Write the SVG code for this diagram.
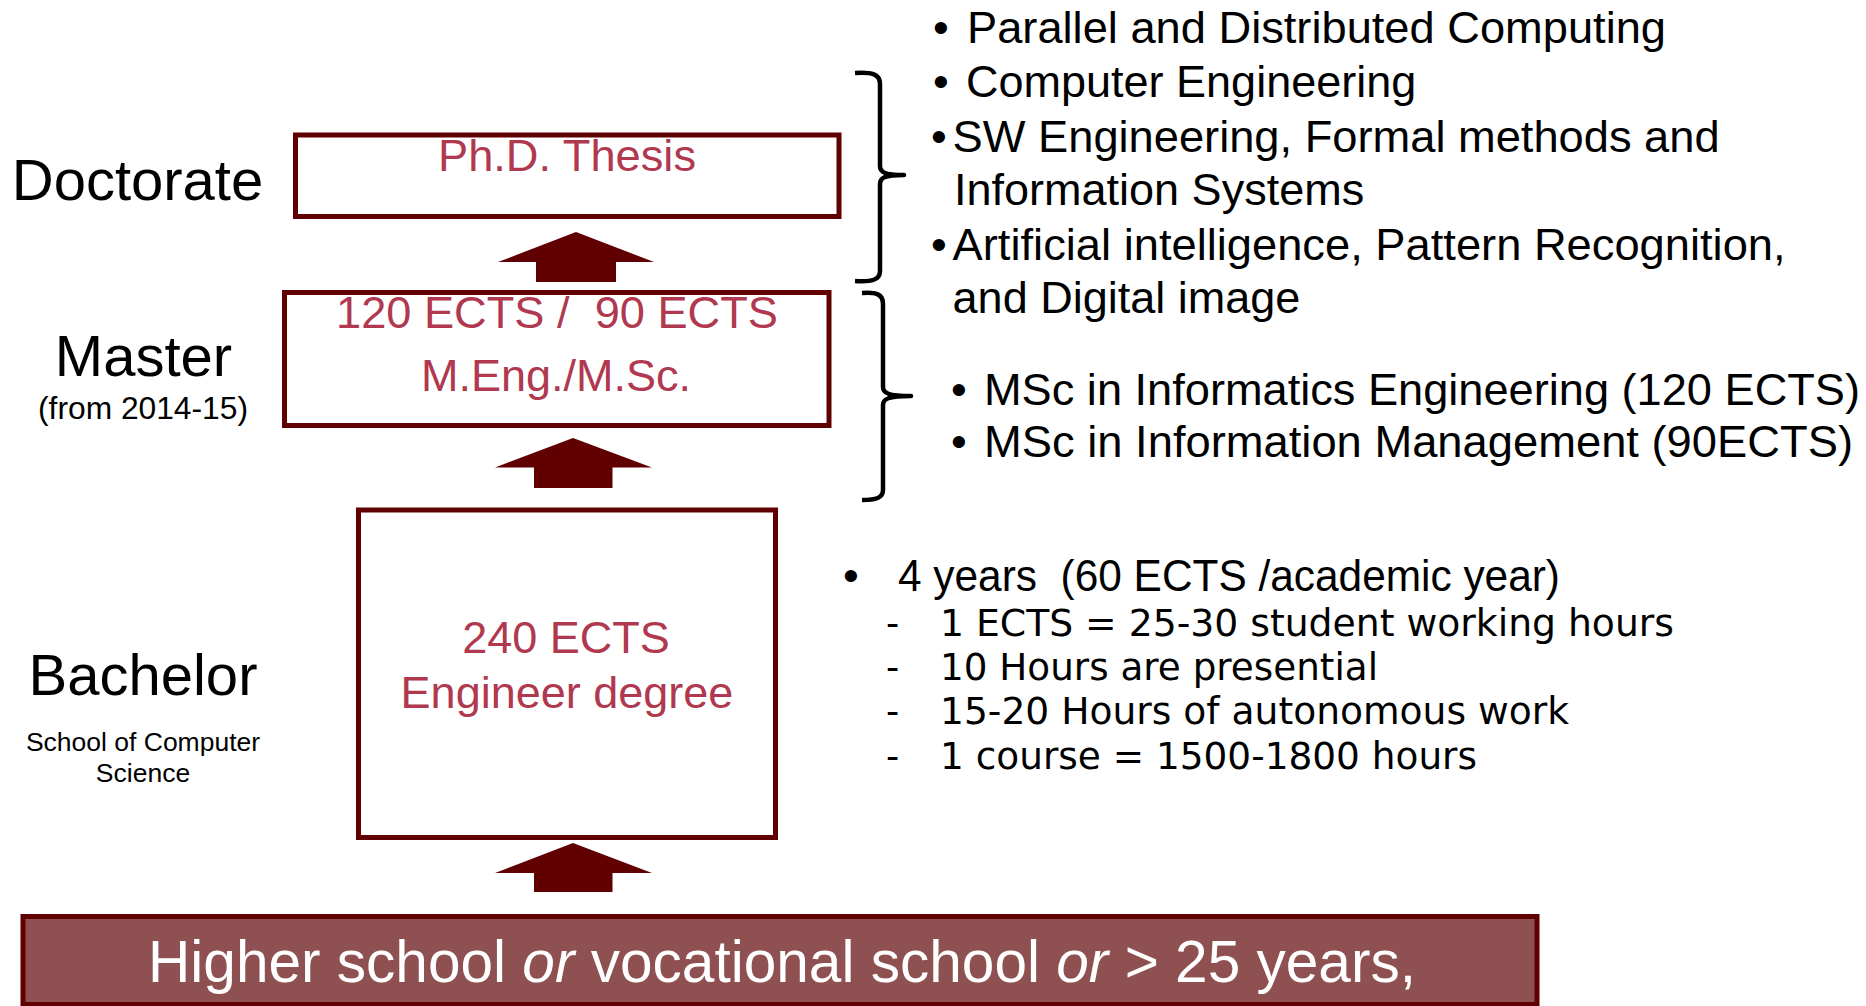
<svg xmlns="http://www.w3.org/2000/svg" width="1866" height="1006" viewBox="0 0 1866 1006">
<style>
.box{fill:#ffffff;stroke:#600000;stroke-width:5}
.arrow{fill:#600000;stroke:none}
.lbl{font-family:"Liberation Sans",Arial,sans-serif;fill:#000;text-anchor:middle}
.big{font-size:58px}
.red{font-family:"Liberation Sans",Arial,sans-serif;font-size:45px;fill:#b0384f;text-anchor:middle}
.list{font-family:"Liberation Sans",Arial,sans-serif;font-size:45px;fill:#000}
.sub{font-family:"DejaVu Sans",Verdana,sans-serif;font-size:36.5px;fill:#000}
.brace{fill:none;stroke:#000;stroke-width:4.5;stroke-linecap:butt;stroke-linejoin:round}
</style>
<rect width="1866" height="1006" fill="#ffffff"/>

<g id="doctorate">
  <rect class="box" x="295.5" y="135" width="543.5" height="81.5"/>
  <text class="red" x="567" y="171" textLength="258" lengthAdjust="spacingAndGlyphs">Ph.D. Thesis</text>
</g>
<g id="master">
  <rect class="box" x="284.5" y="292.5" width="544.5" height="133"/>
  <text class="red" x="557" y="328" xml:space="preserve" textLength="442" lengthAdjust="spacingAndGlyphs">120 ECTS /  90 ECTS</text>
  <text class="red" x="556" y="391">M.Eng./M.Sc.</text>
</g>
<g id="bachelor">
  <rect class="box" x="358.5" y="510" width="417" height="327.5"/>
  <text class="red" x="566" y="653">240 ECTS</text>
  <text class="red" x="567" y="708">Engineer degree</text>
</g>
<g id="entry">
  <rect x="23" y="916.5" width="1514" height="88" fill="#8e5050" stroke="#600000" stroke-width="5"/>
  <text x="148" y="982" font-family="'Liberation Sans',Arial,sans-serif" font-size="58.5" fill="#ffffff" textLength="1268" lengthAdjust="spacingAndGlyphs">Higher school <tspan font-style="italic">or</tspan> vocational school <tspan font-style="italic">or</tspan> &gt; 25 years,</text>
</g>

<g id="level-labels">
  <text class="lbl big" x="137.5" y="200">Doctorate</text>
  <text class="lbl big" x="143.5" y="376">Master</text>
  <text class="lbl" x="143" y="419" font-size="31" textLength="210" lengthAdjust="spacingAndGlyphs">(from 2014-15)</text>
  <text class="lbl big" x="143" y="695">Bachelor</text>
  <text class="lbl" x="143" y="751" font-size="26.5">School of Computer</text>
  <text class="lbl" x="143" y="782" font-size="26.5">Science</text>
</g>

<g id="connectors">
  <polygon class="arrow" points="576,232 654,262 616,262 616,282 536,282 536,262 498,262"/>
  <polygon class="arrow" points="573,438 652,467.5 612.5,467.5 612.5,488 534,488 534,467.5 495,467.5"/>
  <polygon class="arrow" points="573,843 652,873 612.5,873 612.5,892 534,892 534,873 495,873"/>
</g>

<g id="braces">
  <path class="brace" d="M855,73 C872,72 880,74 880,84 L880,166 C880,172 884,175 904,175 C884,175 880,178 880,184 L880,271 C880,280 872,282 855,281"/>
  <path class="brace" d="M862,293 C876,292 883,294 883,304 L883,387 C883,393 888,396 911,396 C888,396 883,399 883,405 L883,490 C883,498 876,500 862,500"/>
</g>

<g id="doctorate-areas">
  <text class="list" x="933" y="43">•</text>
  <text class="list" x="967" y="43" textLength="699" lengthAdjust="spacingAndGlyphs">Parallel and Distributed Computing</text>
  <text class="list" x="933" y="97">•</text>
  <text class="list" x="966" y="97">Computer Engineering</text>
  <text class="list" x="931" y="151.5">•</text>
  <text class="list" x="952.6" y="151.5" textLength="767" lengthAdjust="spacingAndGlyphs">SW Engineering, Formal methods and</text>
  <text class="list" x="954" y="205">Information Systems</text>
  <text class="list" x="931" y="259.5">•</text>
  <text class="list" x="952.6" y="259.5" textLength="833" lengthAdjust="spacingAndGlyphs">Artificial intelligence, Pattern Recognition,</text>
  <text class="list" x="952.6" y="313">and Digital image</text>
</g>

<g id="master-programmes">
  <text class="list" x="951" y="405">•</text>
  <text class="list" x="984" y="405" textLength="876" lengthAdjust="spacingAndGlyphs">MSc in Informatics Engineering (120 ECTS)</text>
  <text class="list" x="951" y="457">•</text>
  <text class="list" x="984" y="457" textLength="869" lengthAdjust="spacingAndGlyphs">MSc in Information Management (90ECTS)</text>
</g>

<g id="bachelor-info">
  <text class="list" x="843" y="591" font-size="42.5">•</text>
  <text class="list" x="898" y="591" font-size="42.5" xml:space="preserve" textLength="662" lengthAdjust="spacingAndGlyphs">4 years  (60 ECTS /academic year)</text>
  <text class="sub" x="886" y="636">-</text>
  <text class="sub" x="940" y="636" textLength="734" lengthAdjust="spacingAndGlyphs">1 ECTS = 25-30 student working hours</text>
  <text class="sub" x="886" y="680">-</text>
  <text class="sub" x="940" y="680" textLength="438" lengthAdjust="spacingAndGlyphs">10 Hours are presential</text>
  <text class="sub" x="886" y="724">-</text>
  <text class="sub" x="940" y="724" textLength="629" lengthAdjust="spacingAndGlyphs">15-20 Hours of autonomous work</text>
  <text class="sub" x="886" y="769">-</text>
  <text class="sub" x="940" y="769" textLength="537" lengthAdjust="spacingAndGlyphs">1 course = 1500-1800 hours</text>
</g>
</svg>
